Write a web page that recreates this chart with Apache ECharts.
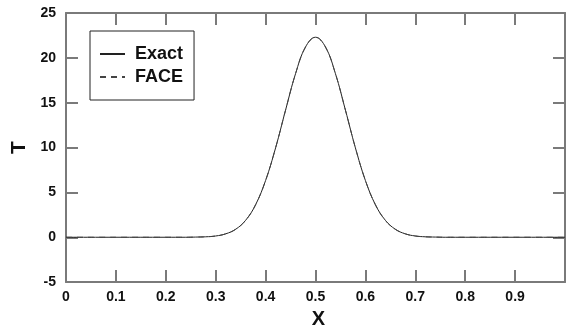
<!DOCTYPE html>
<html>
<head>
<meta charset="utf-8">
<style>
  html, body { margin: 0; padding: 0; background: #fff; }
  #chart { width: 568px; height: 334px; }
</style>
<script src="https://cdn.jsdelivr.net/npm/echarts@6/dist/echarts.min.js"></script>
</head>
<body>
<div id="chart"></div>
<script>
// values
const xs = [0, 0.1, 0.2, 0.24, 0.26, 0.28, 0.30, 0.32, 0.34, 0.36, 0.38, 0.40, 0.42, 0.44, 0.46, 0.48, 0.50,
  0.52, 0.54, 0.56, 0.58, 0.60, 0.62, 0.64, 0.66, 0.68, 0.70, 0.72, 0.74, 0.76, 0.8, 0.9, 1.0];
const exactT = [0, 0, 0, 0, 0.02, 0.05, 0.14, 0.38, 0.89, 1.89, 3.63, 6.33, 9.96, 14.17, 18.23, 21.21, 22.3,
  21.21, 18.23, 14.17, 9.96, 6.33, 3.63, 1.89, 0.89, 0.38, 0.14, 0.05, 0.02, 0, 0, 0, 0];
const faceT = [0, 0, 0, 0, 0.02, 0.05, 0.14, 0.38, 0.89, 1.89, 3.63, 6.33, 9.96, 14.17, 18.23, 21.21, 22.3,
  21.21, 18.23, 14.17, 9.96, 6.33, 3.63, 1.89, 0.89, 0.38, 0.14, 0.05, 0.02, 0, 0, 0, 0];

const xTicks = [0, 0.1, 0.2, 0.3, 0.4, 0.5, 0.6, 0.7, 0.8, 0.9];
const yTicks = [-5, 0, 5, 10, 15, 20, 25];

const FONT = '"Liberation Sans", Arial, sans-serif';
const AX = '#7a7a7a';

const chart = echarts.init(document.getElementById('chart'));

const pairs = (ys) => xs.map((x, i) => [x, ys[i]]);

const tickStyle = { inside: true, length: 12, lineStyle: { color: AX, width: 2 } };
const lineStyleAx = { show: true, onZero: false, lineStyle: { color: AX, width: 2 } };
const lbl = (v) => String(Math.round(v * 10) / 10);

chart.setOption({
  animation: false,
  grid: { left: 66, right: -3, top: 13, bottom: 47 },
  legend: {
    left: 90, top: 31,
    orient: 'vertical',
    itemWidth: 25, itemHeight: 10, itemGap: 3,
    padding: [13, 11, 13, 9],
    borderColor: '#222', borderWidth: 1,
    itemStyle: { opacity: 0, borderWidth: 0 },
    textStyle: { fontFamily: FONT, fontWeight: 'bold', fontSize: 18, lineHeight: 20, color: '#111', padding: [0, 0, 0, 5] },
    data: ['Exact', 'FACE'],
  },
  xAxis: [
    {
      type: 'value', min: 0, max: 1, interval: 0.1,
      name: 'X', nameLocation: 'middle', nameGap: 24,
      nameTextStyle: { fontFamily: FONT, fontWeight: 'bold', fontSize: 20, color: '#111', padding: [0, 0, 0, 6] },
      axisLine: lineStyleAx,
      axisTick: tickStyle,
      splitLine: { show: false },
      axisLabel: {
        margin: 8, fontFamily: FONT, fontWeight: 'bold', fontSize: 14, color: '#111',
        formatter: (v) => (v < 0.95 && xTicks.includes(Math.round(v * 10) / 10) ? lbl(v) : ''),
      },
    },
    {
      type: 'value', position: 'top', min: 0, max: 1, interval: 0.1,
      axisLine: lineStyleAx,
      axisTick: tickStyle,
      axisLabel: { show: false },
      splitLine: { show: false },
    },
  ],
  yAxis: [
    {
      type: 'value', min: -5, max: 25, interval: 5,
      name: 'T', nameLocation: 'middle', nameGap: 32,
      nameTextStyle: { fontFamily: FONT, fontWeight: 'bold', fontSize: 21, color: '#111' },
      axisLine: lineStyleAx,
      axisTick: tickStyle,
      splitLine: { show: false },
      axisLabel: {
        margin: 10, fontFamily: FONT, fontWeight: 'bold', fontSize: 14, color: '#111',
        formatter: (v) => (yTicks.includes(v) ? String(v) : ''),
      },
    },
    {
      type: 'value', position: 'right', min: -5, max: 25, interval: 5,
      axisLine: lineStyleAx,
      axisTick: tickStyle,
      axisLabel: { show: false },
      splitLine: { show: false },
    },
  ],
  series: [
    {
      name: 'Exact', type: 'line', data: pairs(exactT), smooth: 0.4,
      symbol: 'none', showSymbol: false,
      lineStyle: { color: '#222', width: 1 }, itemStyle: { color: '#222' },
    },
    {
      name: 'FACE', type: 'line', data: pairs(faceT), smooth: 0.4,
      symbol: 'none', showSymbol: false,
      lineStyle: { color: '#444', width: 1, type: [6, 5] }, itemStyle: { color: '#444' },
    },
  ],
});
</script>
</body>
</html>
